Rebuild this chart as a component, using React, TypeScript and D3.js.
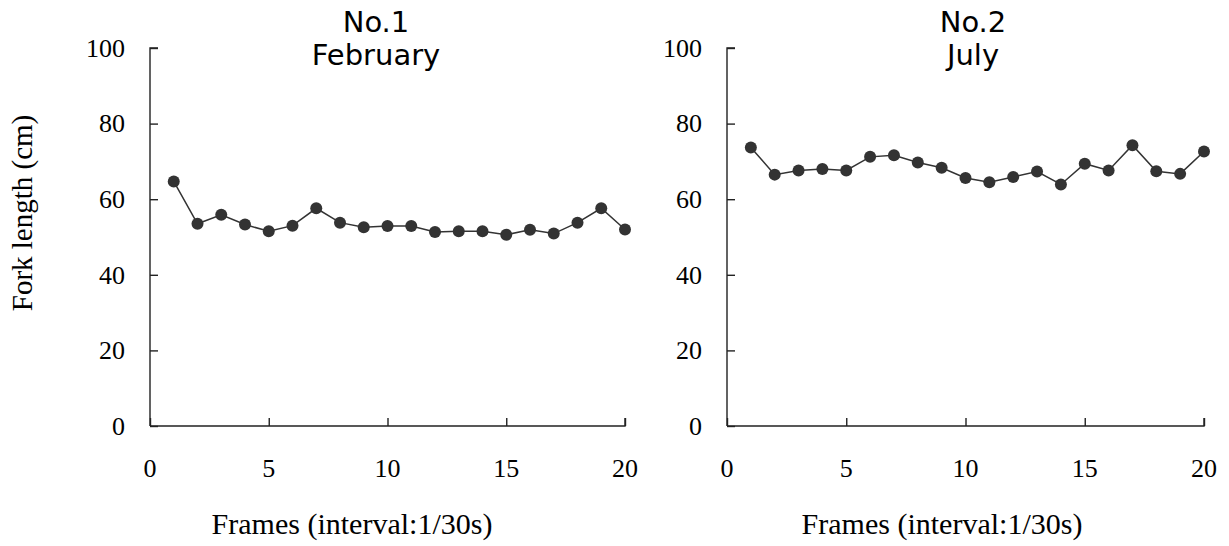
import React, { useRef, useEffect } from 'react';
import * as d3 from 'd3';

// fork length (cm) per frame
const frames = d3.range(1, 21);
const februaryLengths = [64.7, 53.5, 55.9, 53.3, 51.5, 53.0, 57.6, 53.8, 52.6, 52.9, 52.9, 51.3, 51.5, 51.5, 50.6, 51.9, 50.9, 53.8, 57.6, 52.0];
const julyLengths = [73.7, 66.5, 67.6, 68.0, 67.6, 71.2, 71.6, 69.7, 68.3, 65.6, 64.5, 65.9, 67.3, 63.9, 69.4, 67.6, 74.3, 67.4, 66.7, 72.6];
const panelTitles = [['No.1', 'February'], ['No.2', 'July']];
const xTicks = [0, 5, 10, 15, 20];
const yTicks = [0, 20, 40, 60, 80, 100];

const W = 1229;
const H = 546;
const serif = '"Liberation Serif", "Times New Roman", serif';
const sans = '"DejaVu Sans", Verdana, sans-serif';

const panels = [
  { left: 150, right: 625, titleX: 376, labelX: 352, values: februaryLengths, title: panelTitles[0] },
  { left: 727, right: 1204, titleX: 973, labelX: 942, values: julyLengths, title: panelTitles[1] },
];

const App = () => {
  const svgRef = useRef<SVGSVGElement>(null);

  useEffect(() => {
    const svg = d3.select(svgRef.current);
    svg.selectAll('*').remove();
    const top = 48;
    const bottom = 426;
    const y = d3.scaleLinear().domain([0, 100]).range([bottom, top]);

    panels.forEach(p => {
      const x = d3.scaleLinear().domain([0, 20]).range([p.left, p.right]);
      const g = svg.append('g');

      const yAxis = g.append('g')
        .attr('transform', `translate(${p.left},0)`)
        .call(d3.axisRight(y).tickValues(yTicks).tickSize(8).tickFormat(() => ''));
      yAxis.selectAll('path, line').attr('stroke', '#222').attr('stroke-width', 1.4);
      yAxis.select('.domain').attr('d', `M8,${top}H0V${bottom}`);

      g.selectAll('text.ylab')
        .data(yTicks)
        .join('text')
        .attr('class', 'ylab')
        .attr('x', p.left - 25)
        .attr('y', d => y(d))
        .attr('dy', '0.34em')
        .attr('text-anchor', 'end')
        .attr('font-family', serif)
        .attr('font-size', 26)
        .text(d => d);

      const xAxis = g.append('g')
        .attr('transform', `translate(0,${bottom})`)
        .call(d3.axisTop(x).tickValues(xTicks).tickSize(8).tickFormat(() => ''));
      xAxis.selectAll('path, line').attr('stroke', '#222').attr('stroke-width', 1.4);
      xAxis.select('.domain').attr('d', `M${p.left},0H${p.right}V-8`);

      g.selectAll('text.xlab')
        .data(xTicks)
        .join('text')
        .attr('class', 'xlab')
        .attr('x', d => x(d))
        .attr('y', 477)
        .attr('text-anchor', 'middle')
        .attr('font-family', serif)
        .attr('font-size', 26)
        .text(d => d);

      g.append('text')
        .attr('x', p.labelX)
        .attr('y', 534)
        .attr('text-anchor', 'middle')
        .attr('font-family', serif)
        .attr('font-size', 30)
        .text('Frames (interval:1/30s)');

      g.append('text')
        .attr('text-anchor', 'middle')
        .attr('font-family', sans)
        .attr('font-size', 29)
        .selectAll('tspan')
        .data(p.title)
        .join('tspan')
        .attr('x', p.titleX)
        .attr('y', (d, i) => 32 + i * 33)
        .text(d => d);

      const pts = frames.map((f, i) => [f, p.values[i]] as [number, number]);
      const line = d3.line<[number, number]>().x(d => x(d[0])).y(d => y(d[1]));
      g.append('path')
        .attr('d', line(pts))
        .attr('fill', 'none')
        .attr('stroke', '#333')
        .attr('stroke-width', 1.5);
      g.selectAll('circle')
        .data(pts)
        .join('circle')
        .attr('cx', d => x(d[0]))
        .attr('cy', d => y(d[1]))
        .attr('r', 6)
        .attr('fill', '#333');
    });

    svg.append('text')
      .attr('transform', 'translate(32,213) rotate(-90)')
      .attr('text-anchor', 'middle')
      .attr('font-family', serif)
      .attr('font-size', 29)
      .text('Fork length (cm)');
  }, []);

  return (
    <svg
      ref={svgRef}
      width={W}
      height={H}
      style={{ position: 'absolute', left: 0, top: 0, background: '#fff' }}
    />
  );
};

export default App;
